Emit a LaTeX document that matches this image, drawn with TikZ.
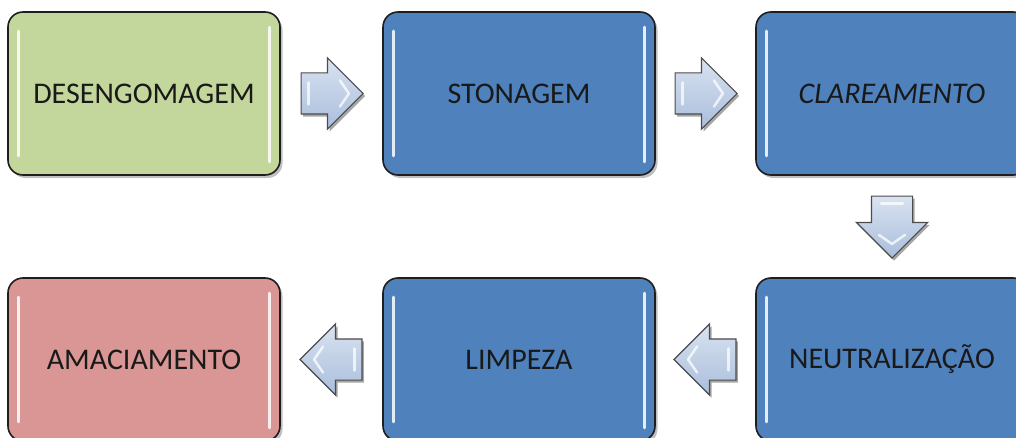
\documentclass[tikz,border=0pt]{standalone}
\usepackage{fontspec}
\setmainfont{Carlito}
\usetikzlibrary{shapes.arrows,shadows,calc}
\definecolor{boxgreen}{HTML}{C3D69B}
\definecolor{boxblue}{HTML}{4F81BD}
\definecolor{boxpink}{HTML}{D99694}
\definecolor{arrtop}{HTML}{D9E3F1}
\definecolor{arrbot}{HTML}{A9BDDB}
\definecolor{edge}{HTML}{1E1E1E}
\tikzset{
  stagebox/.style={rectangle, rounded corners=15pt, draw=edge, line width=1.6pt,
    minimum width=272pt, minimum height=163pt, inner sep=0pt,
    font=\fontsize{30}{34}\selectfont, text=black!90,
    drop shadow={shadow xshift=2.5pt, shadow yshift=-3pt, opacity=0.25, fill=black}},
  hl/.style={white, line width=3pt, line cap=round, opacity=0.85},
  ahl/.style={white, line width=2.5pt, line cap=round, line join=round, opacity=0.75},
  flow/.style={single arrow, draw=black!70, line width=1.2pt,
    top color=arrtop, bottom color=arrbot,
    minimum height=62pt, single arrow head extend=15pt,
    inner xsep=0pt, inner ysep=20pt,
    drop shadow={shadow xshift=2pt, shadow yshift=-2.5pt, opacity=0.35, fill=black}},
  flowdown/.style={flow, inner xsep=20pt, inner ysep=0pt, shape border rotate=270},
}
\newcommand{\gloss}[1]{%
  \draw[hl] ([xshift=11pt,yshift=-20pt]#1.north west) -- ([xshift=11pt,yshift=20pt]#1.south west);
  \draw[hl] ([xshift=-11pt,yshift=-16pt]#1.north east) -- ([xshift=-11pt,yshift=14pt]#1.south east);}
% #1 arrow name, (#2,#3) direction, (#4,#5) perpendicular
\newcommand{\arrowgloss}[5]{%
  \draw[ahl] ($(#1.tail)+({#2*8+#4*11},{#3*8+#5*11})$) -- ($(#1.tail)+({#2*8-#4*11},{#3*8-#5*11})$);
  \draw[ahl] ($(#1.tip)+({-#2*24+#4*13},{-#3*24+#5*13})$) -- ($(#1.tip)+({-#2*15},{-#3*15})$)
     -- ($(#1.tip)+({-#2*24-#4*13},{-#3*24-#5*13})$);}
\begin{document}
\begin{tikzpicture}[x=1pt,y=1pt]
\useasboundingbox (0,0) rectangle (1016,437);
\begin{scope}
\clip (0,0) rectangle (1016,437);
\node[stagebox, fill=boxgreen] (b1) at (144,343.5) {DESENGOMAGEM};
\node[stagebox, fill=boxblue] (b2) at (519,343.5) {STONAGEM};
\node[stagebox, fill=boxblue] (b3) at (892,343.5) {\itshape CLAREAMENTO};
\node[stagebox, fill=boxblue] (b6) at (892,77.5) {NEUTRALIZAÇÃO};
\node[stagebox, fill=boxblue] (b5) at (519,77.5) {LIMPEZA};
\node[stagebox, fill=boxpink] (b4) at (144,77.5) {AMACIAMENTO};
\foreach \n in {b1,b2,b3,b4,b5,b6}{\gloss{\n}}
\node[flow, anchor=tail] (a12) at ($(b1.east)!0.5!(b2.west)+(-31,0)$) {};
\node[flow, anchor=tail] (a23) at ($(b2.east)!0.5!(b3.west)+(-31,0)$) {};
\node[flowdown, anchor=tail] (a36) at ($(b3.south)!0.5!(b6.north)+(0,31)$) {};
\node[flow, shape border rotate=180, anchor=tail] (a65) at ($(b6.west)!0.5!(b5.east)+(31,0)$) {};
\node[flow, shape border rotate=180, anchor=tail] (a54) at ($(b5.west)!0.5!(b4.east)+(31,0)$) {};
\arrowgloss{a12}{1}{0}{0}{1}
\arrowgloss{a23}{1}{0}{0}{1}
\arrowgloss{a36}{0}{-1}{1}{0}
\arrowgloss{a65}{-1}{0}{0}{1}
\arrowgloss{a54}{-1}{0}{0}{1}
\end{scope}
\end{tikzpicture}
\end{document}
